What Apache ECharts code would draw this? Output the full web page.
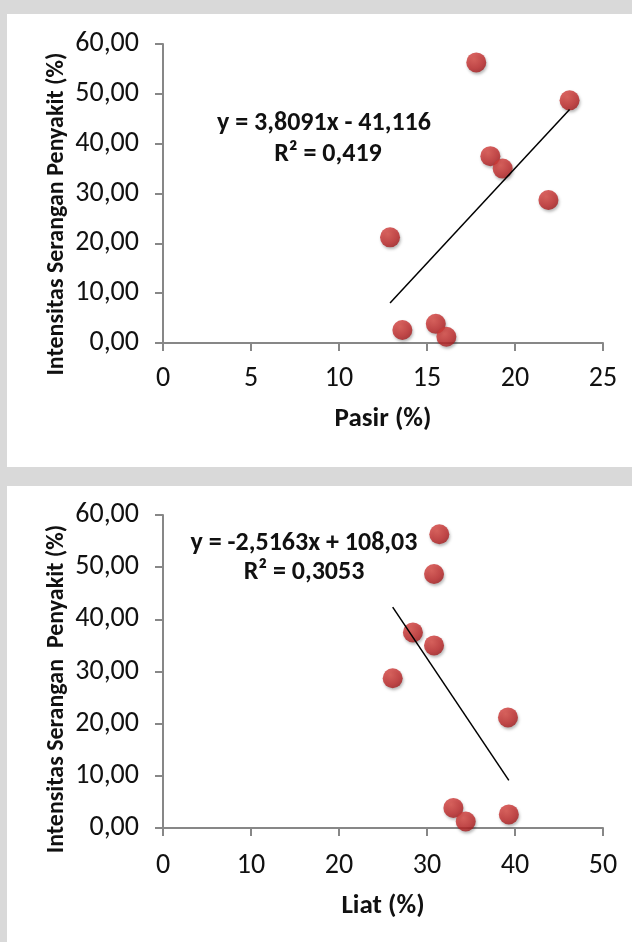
<!DOCTYPE html>
<html>
<head>
<meta charset="utf-8">
<script src="https://cdn.jsdelivr.net/npm/echarts@6/dist/echarts.min.js"></script>
<style>
html,body{margin:0;padding:0;background:#d9d9d9;}
#c{width:632px;height:942px;}
</style>
</head>
<body>
<div id="c"></div>
<script>
// Data
var intensitas = [56.3, 48.7, 37.5, 35.0, 28.7, 21.2, 2.6, 3.85, 1.25];
var pasir = [17.8, 23.1, 18.6, 19.3, 21.9, 12.9, 13.6, 15.5, 16.1];
var liat  = [31.4, 30.8, 28.4, 30.8, 26.1, 39.2, 39.3, 33.0, 34.4];
var yTicks = [0, 10, 20, 30, 40, 50, 60];
var pasirTicks = [0, 5, 10, 15, 20, 25];
var liatTicks = [0, 10, 20, 30, 40, 50];
var trend1 = {slope: 3.8091, intercept: -41.116, r2: '0,419'};
var trend2 = {slope: -2.5163, intercept: 108.03, r2: '0,3053'};
var yTitle1 = 'Intensitas Serangan Penyakit (%)';
var yTitle2 = 'Intensitas Serangan  Penyakit (%)';

function fmt(v){ return v.toFixed(2).replace('.', ','); }
function fmtCoef(v){ return String(Math.abs(v)).replace('.', ','); }
function pairs(xs, ys){ return xs.map(function(x,i){ return [x, ys[i]]; }); }
function trendPts(xs, t){
  var lo = Math.min.apply(null, xs), hi = Math.max.apply(null, xs);
  return [[lo, t.slope*lo + t.intercept], [hi, t.slope*hi + t.intercept]];
}
var eq1 = 'y = ' + (trend1.slope<0?'-':'') + fmtCoef(trend1.slope) + 'x ' + (trend1.intercept<0?'- ':'+ ') + fmtCoef(trend1.intercept);
var eq2 = 'y = ' + (trend2.slope<0?'-':'') + fmtCoef(trend2.slope) + 'x ' + (trend2.intercept<0?'- ':'+ ') + fmtCoef(trend2.intercept);

var FONT = 'Carlito, Lato, "Open Sans", sans-serif';
var axisGray = '#878787';

var marker = {
  color: {
    type: 'radial', x: 0.38, y: 0.32, r: 0.7,
    colorStops: [{offset: 0, color: '#dc4a44'}, {offset: 0.7, color: '#c0292a'}, {offset: 1, color: '#a51d1f'}]
  },
  shadowBlur: 3, shadowOffsetX: 1, shadowOffsetY: 2, shadowColor: 'rgba(0,0,0,0.35)'
};

function xAxisCfg(idx, max, interval, name, gap, lblMargin){
  return {
    type: 'value', gridIndex: idx, min: 0, max: max, interval: interval,
    name: name, nameLocation: 'middle', nameGap: gap,
    nameTextStyle: {fontFamily: FONT, fontWeight: 'bold', fontSize: 27, color: '#111'},
    axisLine: {show: true, onZero: false, lineStyle: {color: axisGray, width: 2}},
    axisTick: {show: true, length: 8, lineStyle: {color: axisGray, width: 2}},
    axisLabel: {margin: lblMargin, fontFamily: FONT, fontSize: 28, color: '#111'},
    splitLine: {show: false}
  };
}
function yAxisCfg(idx){
  return {
    type: 'value', gridIndex: idx, min: yTicks[0], max: yTicks[yTicks.length-1], interval: yTicks[1]-yTicks[0],
    axisLine: {show: true, onZero: false, lineStyle: {color: axisGray, width: 2}},
    axisTick: {show: true, length: 8, lineStyle: {color: axisGray, width: 2}},
    axisLabel: {margin: 24, fontFamily: FONT, fontSize: 28, color: '#111', formatter: function(v){ return fmt(v); }},
    splitLine: {show: false}
  };
}
function txt(s, x, y, size, rot){
  return {type: 'text', z: 10, x: x, y: y, rotation: rot || 0,
    style: {text: s, x: 0, y: 0, textAlign: 'center', textVerticalAlign: 'middle', font: 'bold ' + size + 'px ' + FONT, fill: '#111'}};
}

var chart = echarts.init(document.getElementById('c'), null, {renderer: 'canvas'});
chart.setOption({
  backgroundColor: '#d9d9d9',
  animation: false,
  graphic: [
    {type: 'rect', z: -10, shape: {x: 7, y: 14, width: 625, height: 453}, style: {fill: '#ffffff'}, silent: true},
    {type: 'rect', z: -10, shape: {x: 7, y: 486, width: 625, height: 456}, style: {fill: '#ffffff'}, silent: true},
    txt(eq1, 324, 123, 26),
    txt('R² = ' + trend1.r2, 328, 154, 26),
    txt(eq2, 304, 543, 26),
    txt('R² = ' + trend2.r2, 304, 572, 26),
    txt(yTitle1, 57, 214, 24, Math.PI/2),
    txt(yTitle2, 57, 689, 24, Math.PI/2)
  ],
  grid: [
    {left: 163, top: 44, width: 440, height: 299},
    {left: 163, top: 515, width: 440, height: 313}
  ],
  xAxis: [
    xAxisCfg(0, pasirTicks[pasirTicks.length-1], pasirTicks[1]-pasirTicks[0], 'Pasir (%)', 63, 22),
    xAxisCfg(1, liatTicks[liatTicks.length-1], liatTicks[1]-liatTicks[0], 'Liat (%)', 65, 24)
  ],
  yAxis: [yAxisCfg(0), yAxisCfg(1)],
  series: [
    {type: 'line', xAxisIndex: 0, yAxisIndex: 0, data: trendPts(pasir, trend1), symbol: 'none',
     lineStyle: {color: '#000', width: 1.5}, z: 3, silent: true},
    {type: 'scatter', xAxisIndex: 0, yAxisIndex: 0, data: pairs(pasir, intensitas), symbolSize: 20,
     itemStyle: marker, z: 2},
    {type: 'line', xAxisIndex: 1, yAxisIndex: 1, data: trendPts(liat, trend2), symbol: 'none',
     lineStyle: {color: '#000', width: 1.5}, z: 3, silent: true},
    {type: 'scatter', xAxisIndex: 1, yAxisIndex: 1, data: pairs(liat, intensitas), symbolSize: 20,
     itemStyle: marker, z: 2}
  ]
});
</script>
</body>
</html>
